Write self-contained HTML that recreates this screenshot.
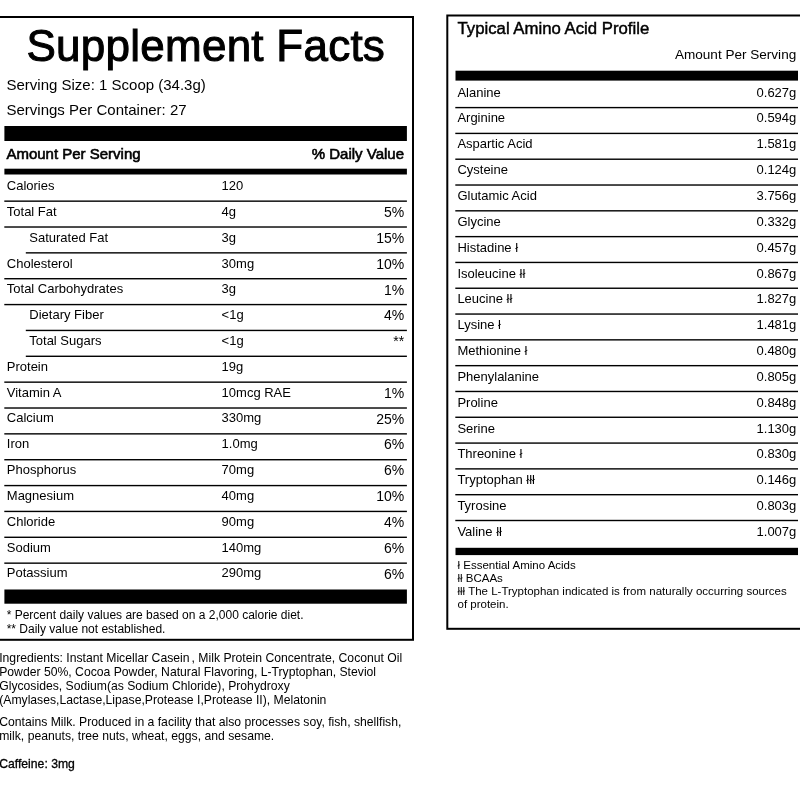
<!DOCTYPE html>
<html><head><meta charset="utf-8"><title>Supplement Facts</title>
<style>
html,body{margin:0;padding:0;background:#fff;}
body{width:800px;height:800px;position:relative;overflow:hidden;font-family:"Liberation Sans",sans-serif;color:#000;}
.a{position:absolute;white-space:nowrap;}
svg{position:absolute;left:0;top:0;}
</style></head><body><div id="w" style="position:absolute;left:0;top:0;width:800px;height:800px;will-change:transform;">

<div class="a" id="title" style="top:23.65px;font-size:44px;line-height:44px;left:26.50px;-webkit-text-stroke:1px #000;letter-spacing:0.25px;">Supplement Facts</div>
<div class="a" id="ss" style="top:76.80px;font-size:15px;line-height:15px;left:6.50px;">Serving Size: 1 Scoop (34.3g)</div>
<div class="a" id="spc" style="top:102.30px;font-size:15px;line-height:15px;left:6.50px;">Servings Per Container: 27</div>
<div class="a" id="aps" style="top:146.10px;font-size:15px;line-height:15px;left:6.40px;-webkit-text-stroke:0.6px #000;">Amount Per Serving</div>
<div class="a" id="dv" style="top:146.10px;font-size:15px;line-height:15px;right:396.00px;text-align:right;-webkit-text-stroke:0.6px #000;">% Daily Value</div>
<div class="a" style="top:179.10px;font-size:13px;line-height:13px;left:6.80px;">Calories</div>
<div class="a" style="top:179.10px;font-size:13px;line-height:13px;left:221.60px;">120</div>
<div class="a" style="top:204.92px;font-size:13px;line-height:13px;left:6.80px;">Total Fat</div>
<div class="a" style="top:204.92px;font-size:13px;line-height:13px;left:221.60px;">4g</div>
<div class="a" style="top:205.07px;font-size:14px;line-height:14px;right:395.80px;text-align:right;">5%</div>
<div class="a" style="top:230.74px;font-size:13px;line-height:13px;left:29.30px;">Saturated Fat</div>
<div class="a" style="top:230.74px;font-size:13px;line-height:13px;left:221.60px;">3g</div>
<div class="a" style="top:230.89px;font-size:14px;line-height:14px;right:395.80px;text-align:right;">15%</div>
<div class="a" style="top:256.56px;font-size:13px;line-height:13px;left:6.80px;">Cholesterol</div>
<div class="a" style="top:256.56px;font-size:13px;line-height:13px;left:221.60px;">30mg</div>
<div class="a" style="top:256.71px;font-size:14px;line-height:14px;right:395.80px;text-align:right;">10%</div>
<div class="a" style="top:282.38px;font-size:13px;line-height:13px;left:6.80px;">Total Carbohydrates</div>
<div class="a" style="top:282.38px;font-size:13px;line-height:13px;left:221.60px;">3g</div>
<div class="a" style="top:282.53px;font-size:14px;line-height:14px;right:395.80px;text-align:right;">1%</div>
<div class="a" style="top:308.20px;font-size:13px;line-height:13px;left:29.30px;">Dietary Fiber</div>
<div class="a" style="top:308.20px;font-size:13px;line-height:13px;left:221.60px;">&lt;1g</div>
<div class="a" style="top:308.35px;font-size:14px;line-height:14px;right:395.80px;text-align:right;">4%</div>
<div class="a" style="top:334.02px;font-size:13px;line-height:13px;left:29.30px;">Total Sugars</div>
<div class="a" style="top:334.02px;font-size:13px;line-height:13px;left:221.60px;">&lt;1g</div>
<div class="a" style="top:334.17px;font-size:14px;line-height:14px;right:395.80px;text-align:right;">**</div>
<div class="a" style="top:359.84px;font-size:13px;line-height:13px;left:6.80px;">Protein</div>
<div class="a" style="top:359.84px;font-size:13px;line-height:13px;left:221.60px;">19g</div>
<div class="a" style="top:385.66px;font-size:13px;line-height:13px;left:6.80px;">Vitamin A</div>
<div class="a" style="top:385.66px;font-size:13px;line-height:13px;left:221.60px;">10mcg RAE</div>
<div class="a" style="top:385.81px;font-size:14px;line-height:14px;right:395.80px;text-align:right;">1%</div>
<div class="a" style="top:411.48px;font-size:13px;line-height:13px;left:6.80px;">Calcium</div>
<div class="a" style="top:411.48px;font-size:13px;line-height:13px;left:221.60px;">330mg</div>
<div class="a" style="top:411.63px;font-size:14px;line-height:14px;right:395.80px;text-align:right;">25%</div>
<div class="a" style="top:437.30px;font-size:13px;line-height:13px;left:6.80px;">Iron</div>
<div class="a" style="top:437.30px;font-size:13px;line-height:13px;left:221.60px;">1.0mg</div>
<div class="a" style="top:437.45px;font-size:14px;line-height:14px;right:395.80px;text-align:right;">6%</div>
<div class="a" style="top:463.12px;font-size:13px;line-height:13px;left:6.80px;">Phosphorus</div>
<div class="a" style="top:463.12px;font-size:13px;line-height:13px;left:221.60px;">70mg</div>
<div class="a" style="top:463.27px;font-size:14px;line-height:14px;right:395.80px;text-align:right;">6%</div>
<div class="a" style="top:488.94px;font-size:13px;line-height:13px;left:6.80px;">Magnesium</div>
<div class="a" style="top:488.94px;font-size:13px;line-height:13px;left:221.60px;">40mg</div>
<div class="a" style="top:489.09px;font-size:14px;line-height:14px;right:395.80px;text-align:right;">10%</div>
<div class="a" style="top:514.76px;font-size:13px;line-height:13px;left:6.80px;">Chloride</div>
<div class="a" style="top:514.76px;font-size:13px;line-height:13px;left:221.60px;">90mg</div>
<div class="a" style="top:514.91px;font-size:14px;line-height:14px;right:395.80px;text-align:right;">4%</div>
<div class="a" style="top:540.58px;font-size:13px;line-height:13px;left:6.80px;">Sodium</div>
<div class="a" style="top:540.58px;font-size:13px;line-height:13px;left:221.60px;">140mg</div>
<div class="a" style="top:540.73px;font-size:14px;line-height:14px;right:395.80px;text-align:right;">6%</div>
<div class="a" style="top:566.40px;font-size:13px;line-height:13px;left:6.80px;">Potassium</div>
<div class="a" style="top:566.40px;font-size:13px;line-height:13px;left:221.60px;">290mg</div>
<div class="a" style="top:566.55px;font-size:14px;line-height:14px;right:395.80px;text-align:right;">6%</div>
<div class="a" id="fn1" style="top:608.74px;font-size:12px;line-height:12px;left:6.70px;">* Percent daily values are based on a 2,000 calorie diet.</div>
<div class="a" id="fn2" style="top:623.04px;font-size:12px;line-height:12px;left:6.70px;">** Daily value not established.</div>
<div class="a" id="ing" style="top:652.02px;font-size:12.2px;line-height:13.9px;left:-0.80px;">Ingredients: Instant Micellar Casein<span style="letter-spacing:-1.4px"> </span>, Milk Protein Concentrate, Coconut Oil<br>Powder 50%, Cocoa Powder, Natural Flavoring, L-Tryptophan, Steviol<br>Glycosides, Sodium(as Sodium Chloride), Prohydroxy<br>(Amylases,Lactase,Lipase,Protease I,Protease II), Melatonin</div>
<div class="a" id="con" style="top:715.87px;font-size:12.2px;line-height:13.8px;left:-0.80px;">Contains Milk. Produced in a facility that also processes soy, fish, shellfish,<br>milk, peanuts, tree nuts, wheat, eggs, and sesame.</div>
<div class="a" id="caf" style="top:757.97px;font-size:12.2px;line-height:12.2px;left:-0.80px;-webkit-text-stroke:0.3px #000;">Caffeine: 3mg</div>
<div class="a" id="rt" style="top:21.12px;font-size:16.75px;line-height:16.75px;left:457.50px;-webkit-text-stroke:0.45px #000;">Typical Amino Acid Profile</div>
<div class="a" id="raps" style="top:48.23px;font-size:13.55px;line-height:13.55px;right:3.80px;text-align:right;">Amount Per Serving</div>
<div class="a" style="top:85.60px;font-size:13px;line-height:13px;left:457.40px;">Alanine</div>
<div class="a" style="top:85.60px;font-size:13px;line-height:13px;right:3.70px;text-align:right;">0.627g</div>
<div class="a" style="top:111.44px;font-size:13px;line-height:13px;left:457.40px;">Arginine</div>
<div class="a" style="top:111.44px;font-size:13px;line-height:13px;right:3.70px;text-align:right;">0.594g</div>
<div class="a" style="top:137.29px;font-size:13px;line-height:13px;left:457.40px;">Aspartic Acid</div>
<div class="a" style="top:137.29px;font-size:13px;line-height:13px;right:3.70px;text-align:right;">1.581g</div>
<div class="a" style="top:163.14px;font-size:13px;line-height:13px;left:457.40px;">Cysteine</div>
<div class="a" style="top:163.14px;font-size:13px;line-height:13px;right:3.70px;text-align:right;">0.124g</div>
<div class="a" style="top:188.98px;font-size:13px;line-height:13px;left:457.40px;">Glutamic Acid</div>
<div class="a" style="top:188.98px;font-size:13px;line-height:13px;right:3.70px;text-align:right;">3.756g</div>
<div class="a" style="top:214.83px;font-size:13px;line-height:13px;left:457.40px;">Glycine</div>
<div class="a" style="top:214.83px;font-size:13px;line-height:13px;right:3.70px;text-align:right;">0.332g</div>
<div class="a" style="top:240.68px;font-size:13px;line-height:13px;left:457.40px;">Histadine ł</div>
<div class="a" style="top:240.68px;font-size:13px;line-height:13px;right:3.70px;text-align:right;">0.457g</div>
<div class="a" style="top:266.52px;font-size:13px;line-height:13px;left:457.40px;">Isoleucine łł</div>
<div class="a" style="top:266.52px;font-size:13px;line-height:13px;right:3.70px;text-align:right;">0.867g</div>
<div class="a" style="top:292.37px;font-size:13px;line-height:13px;left:457.40px;">Leucine łł</div>
<div class="a" style="top:292.37px;font-size:13px;line-height:13px;right:3.70px;text-align:right;">1.827g</div>
<div class="a" style="top:318.22px;font-size:13px;line-height:13px;left:457.40px;">Lysine ł</div>
<div class="a" style="top:318.22px;font-size:13px;line-height:13px;right:3.70px;text-align:right;">1.481g</div>
<div class="a" style="top:344.07px;font-size:13px;line-height:13px;left:457.40px;">Methionine ł</div>
<div class="a" style="top:344.07px;font-size:13px;line-height:13px;right:3.70px;text-align:right;">0.480g</div>
<div class="a" style="top:369.91px;font-size:13px;line-height:13px;left:457.40px;">Phenylalanine</div>
<div class="a" style="top:369.91px;font-size:13px;line-height:13px;right:3.70px;text-align:right;">0.805g</div>
<div class="a" style="top:395.76px;font-size:13px;line-height:13px;left:457.40px;">Proline</div>
<div class="a" style="top:395.76px;font-size:13px;line-height:13px;right:3.70px;text-align:right;">0.848g</div>
<div class="a" style="top:421.61px;font-size:13px;line-height:13px;left:457.40px;">Serine</div>
<div class="a" style="top:421.61px;font-size:13px;line-height:13px;right:3.70px;text-align:right;">1.130g</div>
<div class="a" style="top:447.45px;font-size:13px;line-height:13px;left:457.40px;">Threonine ł</div>
<div class="a" style="top:447.45px;font-size:13px;line-height:13px;right:3.70px;text-align:right;">0.830g</div>
<div class="a" style="top:473.30px;font-size:13px;line-height:13px;left:457.40px;">Tryptophan łłł</div>
<div class="a" style="top:473.30px;font-size:13px;line-height:13px;right:3.70px;text-align:right;">0.146g</div>
<div class="a" style="top:499.15px;font-size:13px;line-height:13px;left:457.40px;">Tyrosine</div>
<div class="a" style="top:499.15px;font-size:13px;line-height:13px;right:3.70px;text-align:right;">0.803g</div>
<div class="a" style="top:524.99px;font-size:13px;line-height:13px;left:457.40px;">Valine łł</div>
<div class="a" style="top:524.99px;font-size:13px;line-height:13px;right:3.70px;text-align:right;">1.007g</div>
<div class="a" id="rfn" style="top:559.02px;font-size:11.5px;line-height:13px;left:457.50px;">ł Essential Amino Acids<br>łł BCAAs<br>łłł The L-Tryptophan indicated is from naturally occurring sources<br>of protein.</div>
<svg width="800" height="800" viewBox="0 0 800 800" fill="#000"><rect x="-5" y="17" width="418" height="622.8" fill="none" stroke="#000" stroke-width="2"/><rect x="4.40" y="126.00" width="402.50" height="15.00"/><rect x="4.40" y="168.70" width="402.50" height="5.80"/><rect x="4.30" y="200.45" width="402.60" height="1.40"/><rect x="4.30" y="226.31" width="402.60" height="1.40"/><rect x="25.80" y="252.16" width="381.10" height="1.40"/><rect x="4.30" y="278.02" width="402.60" height="1.40"/><rect x="4.30" y="303.88" width="402.60" height="1.40"/><rect x="25.80" y="329.74" width="381.10" height="1.40"/><rect x="25.80" y="355.59" width="381.10" height="1.40"/><rect x="4.30" y="381.45" width="402.60" height="1.40"/><rect x="4.30" y="407.31" width="402.60" height="1.40"/><rect x="4.30" y="433.16" width="402.60" height="1.40"/><rect x="4.30" y="459.02" width="402.60" height="1.40"/><rect x="4.30" y="484.88" width="402.60" height="1.40"/><rect x="4.30" y="510.73" width="402.60" height="1.40"/><rect x="4.30" y="536.59" width="402.60" height="1.40"/><rect x="4.30" y="562.45" width="402.60" height="1.40"/><rect x="4.40" y="589.50" width="402.50" height="14.20"/><rect x="447.3" y="15.5" width="370" height="613.3" fill="none" stroke="#000" stroke-width="2"/><rect x="455.50" y="70.70" width="342.50" height="9.90"/><rect x="455.30" y="106.90" width="342.70" height="1.40"/><rect x="455.30" y="132.71" width="342.70" height="1.40"/><rect x="455.30" y="158.51" width="342.70" height="1.40"/><rect x="455.30" y="184.32" width="342.70" height="1.40"/><rect x="455.30" y="210.12" width="342.70" height="1.40"/><rect x="455.30" y="235.93" width="342.70" height="1.40"/><rect x="455.30" y="261.74" width="342.70" height="1.40"/><rect x="455.30" y="287.54" width="342.70" height="1.40"/><rect x="455.30" y="313.35" width="342.70" height="1.40"/><rect x="455.30" y="339.15" width="342.70" height="1.40"/><rect x="455.30" y="364.96" width="342.70" height="1.40"/><rect x="455.30" y="390.77" width="342.70" height="1.40"/><rect x="455.30" y="416.57" width="342.70" height="1.40"/><rect x="455.30" y="442.38" width="342.70" height="1.40"/><rect x="455.30" y="468.18" width="342.70" height="1.40"/><rect x="455.30" y="493.99" width="342.70" height="1.40"/><rect x="455.30" y="519.80" width="342.70" height="1.40"/><rect x="455.50" y="547.80" width="342.50" height="7.30"/></svg>
</div></body></html>
